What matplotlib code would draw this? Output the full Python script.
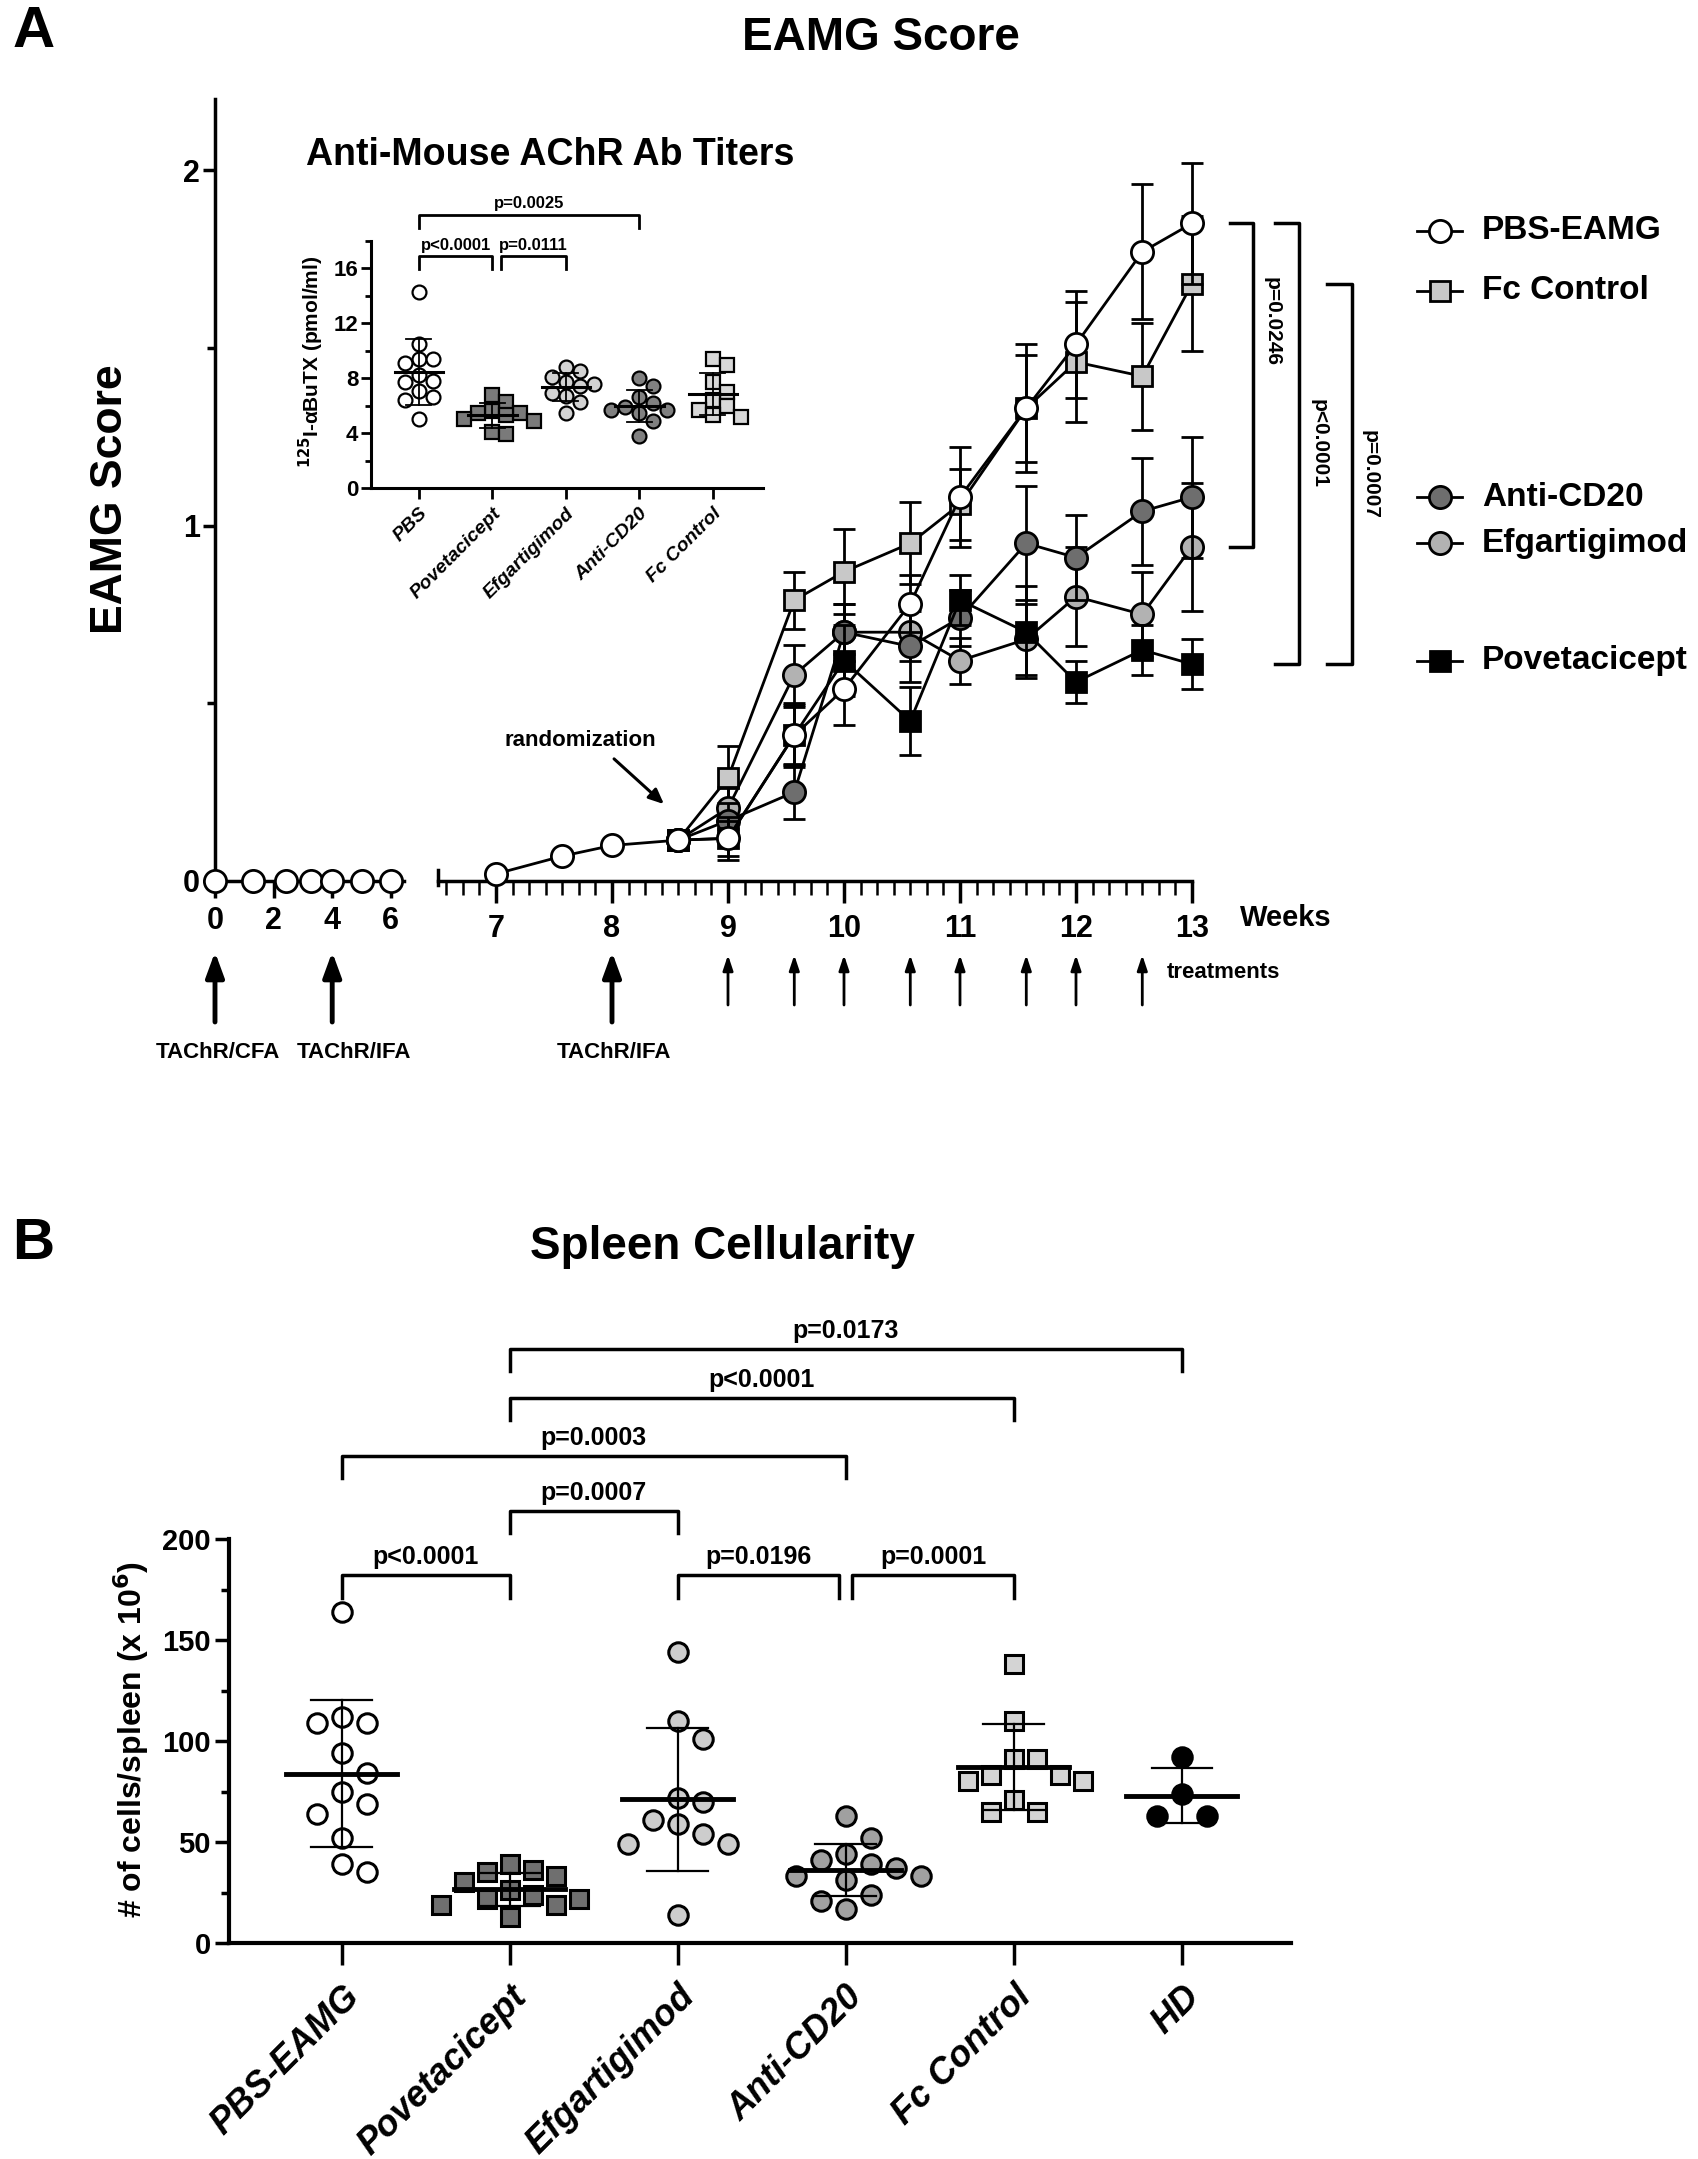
import numpy as np
import matplotlib.pyplot as plt

W, H = 1699, 2159
NARROW = ['Liberation Sans Narrow', 'Liberation Sans', 'DejaVu Sans']
WIDE = ['Liberation Sans', 'DejaVu Sans']
plt.rcParams['font.family'] = NARROW
plt.rcParams['font.weight'] = 'bold'

# ---------------- data: panel A, EAMG score (mean, SEM) ----------------
pre_days = [0, 9, 17, 23, 28, 35, 42]
pre_score = [0, 0, 0, 0, 0, 0, 0]
runin_days = [49, 53, 56]
runin_score = [0.02, 0.07, 0.10]
tx_days = [60, 63, 67, 70, 74, 77, 81, 84, 88, 91]

groups_a = ['Fc Control', 'Efgartigimod', 'Anti-CD20', 'Povetacicept', 'PBS-EAMG']
score_fc = [0.115, 0.29, 0.79, 0.87, 0.95, 1.06, 1.33, 1.46, 1.42, 1.68]
sem_fc = [0, 0.09, 0.08, 0.12, 0.115, 0.10, 0.15, 0.17, 0.15, 0.19]
score_efg = [0.115, 0.205, 0.58, 0.70, 0.70, 0.62, 0.68, 0.80, 0.75, 0.94]
sem_efg = [0, 0.06, 0.085, 0.08, 0.08, 0.065, 0.10, 0.14, 0.12, 0.18]
score_cd20 = [0.115, 0.17, 0.25, 0.70, 0.66, 0.74, 0.95, 0.91, 1.04, 1.08]
sem_cd20 = [0, 0.05, 0.075, 0.08, 0.10, 0.08, 0.16, 0.12, 0.15, 0.17]
score_pove = [0.115, 0.12, 0.41, 0.62, 0.45, 0.79, 0.70, 0.56, 0.65, 0.61]
sem_pove = [0, 0.05, 0.08, 0.10, 0.095, 0.07, 0.13, 0.06, 0.07, 0.07]
score_pbs = [0.115, 0.12, 0.41, 0.54, 0.78, 1.08, 1.33, 1.51, 1.77, 1.85]
sem_pbs = [0, 0.06, 0.09, 0.10, 0.08, 0.14, 0.18, 0.15, 0.19, 0.17]

treatment_days = [63, 67, 70, 74, 77, 81, 84, 88]
immun_days = [0, 28, 56]
immun_labels = ['TAChR/CFA', 'TAChR/IFA', 'TAChR/IFA']

# significance brackets, panel A (group pairs on last time point)
sig_a = [('PBS-EAMG', 'Efgartigimod', 'p=0.0246'),
         ('PBS-EAMG', 'Povetacicept', 'p<0.0001'),
         ('Fc Control', 'Povetacicept', 'p=0.0007')]

# ---------------- data: inset, anti-AChR titers ----------------
titer_groups = ['PBS', 'Povetacicept', 'Efgartigimod', 'Anti-CD20', 'Fc Control']
titer_pbs = [14.3, 10.5, 9.4, 9.4, 9.1, 8.2, 7.8, 7.7, 7.1, 6.6, 6.4, 5.0]
titer_pove = [6.8, 6.3, 5.6, 5.5, 5.5, 5.3, 5.0, 4.9, 4.1, 3.9]
titer_efg = [8.8, 8.5, 8.1, 7.7, 7.6, 7.4, 6.9, 6.7, 6.3, 5.5]
titer_cd20 = [8.0, 7.4, 6.6, 6.2, 5.9, 5.7, 5.7, 5.5, 4.9, 3.8]
titer_fc = [9.4, 9.0, 7.7, 7.0, 6.4, 6.0, 5.7, 5.3, 5.2]
sig_inset = [(0, 1, 'p<0.0001'), (1, 2, 'p=0.0111'), (0, 3, 'p=0.0025')]

# ---------------- data: panel B, spleen cellularity ----------------
spleen_groups = ['PBS-EAMG', 'Povetacicept', 'Efgartigimod', 'Anti-CD20', 'Fc Control', 'HD']
cells_pbs = [164, 112, 109, 109, 94, 84, 75, 69, 64, 52, 39, 35]
cells_pove = [39, 36, 35, 33, 30, 26, 24, 22, 22, 19, 19, 13]
cells_efg = [144, 110, 101, 72, 70, 61, 59, 54, 49, 49, 14]
cells_cd20 = [63, 52, 44, 41, 39, 37, 33, 33, 31, 24, 21, 17]
cells_fc = [138, 110, 91, 91, 83, 83, 80, 80, 71, 65, 65]
cells_hd = [92, 74, 63, 63]
sig_b = [(0, 1, 'p<0.0001'), (2, 3, 'p=0.0196'), (3, 4, 'p=0.0001'),
         (1, 2, 'p=0.0007'), (0, 3, 'p=0.0003'), (1, 4, 'p<0.0001'), (1, 5, 'p=0.0173')]


# ---------------- helpers ----------------
fig = plt.figure(figsize=(W / 100, H / 100), dpi=100)


def box(left, top, right, bottom):
    return [left / W, 1 - bottom / H, (right - left) / W, (bottom - top) / H]


def fx(x):
    return x / W


def fy(y):
    return 1 - y / H


def style_axes(ax, lw=2.5):
    for s in ['top', 'right']:
        ax.spines[s].set_visible(False)
    for s in ['left', 'bottom']:
        ax.spines[s].set_linewidth(lw)


def swarm_x(ax, xc, values, diam):
    # simple beeswarm in pixel space, returns x positions in data units
    pts = ax.transData.transform(np.column_stack([np.full(len(values), xc), values]))
    placed = []
    out = []
    for px, py in pts:
        for k in [0, 1, -1, 2, -2, 3, -3, 4, -4]:
            cx = px + k * diam
            if all((cx - qx) ** 2 + (py - qy) ** 2 >= (diam * 0.98) ** 2 for qx, qy in placed):
                break
        placed.append((cx, py))
        out.append(ax.transData.inverted().transform((cx, py))[0])
    return out


# ======================= PANEL A =======================
fig.text(fx(34), fy(32), 'A', family=WIDE, size=42, ha='center', va='center')
fig.text(fx(881), fy(38), 'EAMG Score', size=33, ha='center', va='center')
fig.text(fx(110), fy(499), 'EAMG Score', family=WIDE, size=32, rotation=90,
         ha='center', va='center')

ax1 = fig.add_axes(box(215, 99, 404, 881))
ax2 = fig.add_axes(box(438, 99, 1192, 881))
for ax in (ax1, ax2):
    style_axes(ax)
    ax.set_ylim(0, 2.2)
    ax.set_facecolor('none')

ax1.set_xlim(0, 6.45)
ax1.set_yticks([0, 1, 2])
ax1.set_yticks([0.5, 1.5], minor=True)
ax1.set_xticks([0, 2, 4, 6])
ax1.tick_params(axis='y', which='major', length=9, width=2.5, labelsize=22, pad=2)
ax1.tick_params(axis='y', which='minor', length=6, width=2.5)
ax1.tick_params(axis='x', length=12, width=2.5, labelsize=22, pad=6)

ax2.spines['left'].set_visible(False)
ax2.set_yticks([])
ax2.set_xlim(6.5, 13)
ax2.set_xticks(range(7, 14))
ax2.set_xticks(np.arange(46, 92) / 7, minor=True)
ax2.tick_params(axis='x', which='major', length=16, width=2.5, labelsize=22, pad=8)
ax2.tick_params(axis='x', which='minor', length=10, width=1.8)
ax2.plot([6.5, 6.5], [-0.01, 0.03], color='black', lw=2.5, clip_on=False)

circ = dict(marker='o', ms=16, mew=2, mec='black')
sq = dict(marker='s', ms=15, mew=2, mec='black')

ax1.plot(np.array(pre_days) / 7, pre_score, color='black', lw=2, mfc='white',
         clip_on=False, zorder=6, **circ)

series = {
    'Fc Control': (score_fc, sem_fc, sq, '#c8c8c8'),
    'Efgartigimod': (score_efg, sem_efg, circ, '#b2b2b2'),
    'Anti-CD20': (score_cd20, sem_cd20, circ, '#6e6e6e'),
    'Povetacicept': (score_pove, sem_pove, sq, 'black'),
    'PBS-EAMG': (score_pbs, sem_pbs, circ, 'white'),
}
tx_weeks = np.array(tx_days) / 7
for z, name in enumerate(groups_a):
    vals, sem, mk, col = series[name]
    x = tx_weeks
    y = list(vals)
    if name == 'PBS-EAMG':
        x = np.concatenate([np.array(runin_days) / 7, tx_weeks])
        y = runin_score + y
        e = [0] * len(runin_days) + sem
    else:
        e = sem
    ax2.errorbar(x, y, yerr=e, fmt='none', ecolor='black', elinewidth=2,
                 capsize=8, capthick=2, zorder=3 + z, clip_on=False)
    ax2.plot(x, y, color='black', lw=2, mfc=col, zorder=3.5 + z, clip_on=False, **mk)

# legend (placed beside last values)
legend_order = ['PBS-EAMG', 'Fc Control', 'Anti-CD20', 'Efgartigimod', 'Povetacicept']
legend_y = {'PBS-EAMG': 1.83, 'Fc Control': 1.66, 'Anti-CD20': 1.08,
            'Efgartigimod': 0.95, 'Povetacicept': 0.62}
tr = ax2.get_yaxis_transform()
for name in legend_order:
    vals, sem, mk, col = series[name]
    ly = legend_y[name]
    x0, x1, xm = (1417 - 438) / 754, (1462 - 438) / 754, (1440 - 438) / 754
    ax2.plot([x0, x1], [ly, ly], color='black', lw=2, transform=tr, clip_on=False)
    ax2.plot([xm], [ly], color='black', mfc=col, transform=tr, clip_on=False, **mk)
    ax2.text((1482 - 438) / 754, ly, name, family=WIDE, size=24, transform=tr,
             ha='left', va='center')

# significance brackets on right
finals = {n: series[n][0][-1] for n in groups_a}
bracket_x = [(1230, 1253, 1272), (1275, 1299, 1319), (1327, 1352, 1370)]
for (g1, g2, lab), (xa, xb, xt) in zip(sig_a, bracket_x):
    y1, y2 = finals[g1], finals[g2]
    xa, xb, xt = [(v - 438) / 754 for v in (xa, xb, xt)]
    ax2.plot([xa, xb, xb, xa], [y1, y1, y2, y2], color='black', lw=2.5,
             transform=tr, clip_on=False)
    ax2.text(xt, (y1 + y2) / 2 + (0.18 if lab == 'p=0.0246' else 0), lab, family=WIDE,
             size=15, rotation=270, ha='center', va='center', transform=tr)

# weeks, treatments and immunization arrows
fig.text(fx(1240), fy(918), 'Weeks', size=21, ha='left', va='center')
fig.text(fx(1167), fy(973), 'treatments', size=16, ha='left', va='center')
for d in treatment_days:
    ax2.annotate('', xy=(d / 7, fy(955)), xycoords=('data', 'figure fraction'),
                 xytext=(d / 7, fy(1005)), textcoords=('data', 'figure fraction'),
                 arrowprops=dict(arrowstyle='-|>,head_length=0.9,head_width=0.3',
                                 lw=2, color='black', shrinkA=0, shrinkB=0))
label_shift = [3, 22, 2]  # px offsets of the labels under the big arrows
for d, lab, dx in zip(immun_days, immun_labels, label_shift):
    axx = ax1 if d / 7 < 6.5 else ax2
    axx.annotate('', xy=(d / 7, fy(952)), xycoords=('data', 'figure fraction'),
                 xytext=(d / 7, fy(1022)), textcoords=('data', 'figure fraction'),
                 arrowprops=dict(arrowstyle='-|>,head_length=1.5,head_width=0.55',
                                 lw=3.5, color='black', shrinkA=0, shrinkB=0))
    axx.annotate(lab, xy=(d / 7, fy(1053)), xycoords=('data', 'figure fraction'),
                 xytext=(dx * 0.72, 0), textcoords='offset points',
                 size=16, ha='center', va='center')

fig.text(fx(580), fy(741), 'randomization', size=16, ha='center', va='center')
fig.add_artist(plt.matplotlib.patches.FancyArrowPatch(
    (fx(612), fy(757)), (fx(666), fy(806)), transform=fig.transFigure,
    arrowstyle='-|>,head_length=9,head_width=4', lw=2.2, color='black'))

# ======================= INSET =======================
axi = fig.add_axes(box(371, 241, 763, 488))
style_axes(axi, lw=2.2)
axi.set_xlim(-0.65, 4.68)
axi.set_ylim(0, 18)
axi.set_yticks([0, 4, 8, 12, 16])
axi.set_yticks([2, 6, 10, 14, 18], minor=True)
axi.set_xticks(range(5))
axi.set_xticklabels(titer_groups, rotation=45, ha='right', rotation_mode='anchor',
                    style='italic', family=WIDE, size=14)
axi.tick_params(axis='y', which='major', length=7, width=2, labelsize=16, pad=2)
axi.tick_params(axis='y', which='minor', length=4, width=2)
axi.tick_params(axis='x', length=8, width=2, pad=4)
fig.text(fx(311), fy(362), r'$\mathbf{^{125}}$I-αBuTX (pmol/ml)', family=WIDE, size=15,
         rotation=90, ha='center', va='center')
fig.text(fx(550), fy(155), 'Anti-Mouse AChR Ab Titers', size=27, ha='center', va='center')

inset_sets = [(titer_pbs, 'o', 'white'), (titer_pove, 's', '#7a7a7a'),
              (titer_efg, 'o', '#d2d2d2'), (titer_cd20, 'o', '#808080'),
              (titer_fc, 's', '#d8d8d8')]
for i, (vals, mk, col) in enumerate(inset_sets):
    xs = swarm_x(axi, i, vals, 14)
    m, s = np.mean(vals), np.std(vals, ddof=1)
    axi.plot([i - 0.33, i + 0.33], [m, m], color='black', lw=2.2, zorder=4)
    axi.plot([i, i], [m - s, m + s], color='black', lw=1.3, zorder=4)
    for yy in (m - s, m + s):
        axi.plot([i - 0.17, i + 0.17], [yy, yy], color='black', lw=1.3, zorder=4)
    axi.plot(xs, vals, ls='none', marker=mk, ms=10 if mk == 'o' else 9.5, mfc=col,
             mec='black', mew=1.6, zorder=3, clip_on=False)

inset_h = {(0, 1): 16.9, (1, 2): 16.9, (0, 3): 19.9}
for a, b, lab in sig_inset:
    h = inset_h[(a, b)]
    xa = a + (0.12 if (a, b) == (1, 2) else 0)
    axi.plot([xa, xa, b, b], [h - 0.95, h, h, h - 0.95], color='black', lw=2, clip_on=False)
    axi.text((xa + b) / 2, h + 0.25, lab, size=12, ha='center', va='bottom')

# ======================= PANEL B =======================
fig.text(fx(33), fy(1244), 'B', family=WIDE, size=42, ha='center', va='center')
fig.text(fx(722), fy(1247), 'Spleen Cellularity', size=33, ha='center', va='center')
fig.text(fx(131), fy(1740), r'# of cells/spleen (x 10$\mathbf{^6}$)', family=WIDE, size=23,
         rotation=90, ha='center', va='center')

axb = fig.add_axes(box(229, 1539, 1291, 1943))
style_axes(axb, lw=3)
axb.set_xlim(-0.67, 5.65)
axb.set_ylim(0, 200)
axb.set_yticks(range(0, 201, 50))
axb.set_yticks(range(25, 200, 50), minor=True)
axb.set_xticks(range(6))
axb.set_xticklabels(spleen_groups, rotation=45, ha='right', rotation_mode='anchor',
                    style='italic', family=WIDE, size=26)
axb.tick_params(axis='y', which='major', length=10, width=2.5, labelsize=21, pad=3)
axb.tick_params(axis='y', which='minor', length=6, width=2.5)
axb.tick_params(axis='x', length=16, width=2.5, pad=10)

spleen_sets = [(cells_pbs, 'o', 'white'), (cells_pove, 's', '#6f6f6f'),
               (cells_efg, 'o', '#cdcdcd'), (cells_cd20, 'o', '#a0a0a0'),
               (cells_fc, 's', '#d4d4d4'), (cells_hd, 'o', 'black')]
for i, (vals, mk, col) in enumerate(spleen_sets):
    xs = swarm_x(axb, i, vals, 23 if mk == 's' else 25)
    m, s = np.mean(vals), np.std(vals, ddof=1)
    axb.plot([i - 0.33, i + 0.33], [m, m], color='black', lw=3.5, zorder=4)
    axb.plot([i, i], [m - s, m + s], color='black', lw=1.6, zorder=4)
    for yy in (m - s, m + s):
        axb.plot([i - 0.18, i + 0.18], [yy, yy], color='black', lw=1.6, zorder=4)
    axb.plot(xs, vals, ls='none', marker=mk, ms=14 if mk == 'o' else 13, mfc=col,
             mec='black', mew=2.2, zorder=3 if col != 'black' else 5, clip_on=False)

spleen_h = {(0, 1): 182, (2, 3): 182, (3, 4): 182, (1, 2): 214,
            (0, 3): 241, (1, 4): 270, (1, 5): 294}
for a, b, lab in sig_b:
    h = spleen_h[(a, b)]
    xa, xb = a, b
    if (a, b) == (2, 3):
        xb = b - 0.04
    if (a, b) == (3, 4):
        xa = a + 0.04
    axb.plot([xa, xa, xb, xb], [h - 11, h, h, h - 11], color='black', lw=2.5, clip_on=False)
    axb.text((xa + xb) / 2, h + 3, lab, size=18, ha='center', va='bottom')

fig.savefig('out.png', dpi=100)
